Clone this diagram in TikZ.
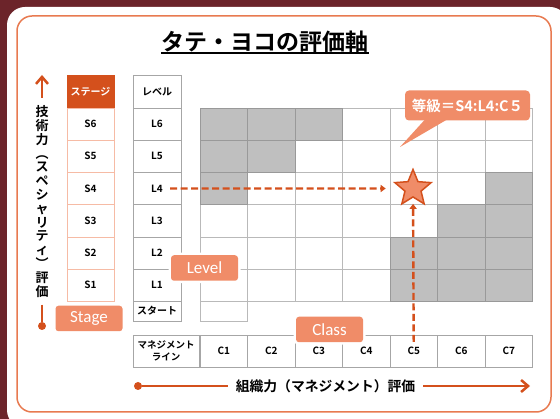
\documentclass[tikz,border=0pt]{standalone}
\usepackage{fontspec}
\usepackage{xcolor}
\usetikzlibrary{arrows.meta,positioning,calc,shapes.geometric}
\newfontfamily\jpb{Noto Sans CJK JP Bold}
\newfontfamily\lab{Carlito}
\definecolor{maroon}{RGB}{108,36,42}
\definecolor{frame}{RGB}{232,122,80}
\definecolor{deep}{RGB}{212,80,28}
\definecolor{salmon}{RGB}{240,140,104}
\definecolor{pale}{RGB}{246,187,165}

\begin{document}
\begin{tikzpicture}[x=1pt,y=-1pt,>={Triangle[length=5pt,width=7pt]}]
  \tikzstyle{cell}=[draw=gray!55,inner sep=0,minimum width=47.5pt,minimum height=32.2pt,font=\jpb\fontsize{10}{12}\selectfont]
  \tikzstyle{stagecell}=[cell,draw=pale,minimum width=47pt]
  \tikzstyle{levelcell}=[cell,draw=gray!70,minimum width=48pt]
  \tikzstyle{shade}=[cell,fill=gray!50,draw=gray!80]
  \tikzstyle{tag}=[fill=salmon,text=white,rounded corners=3pt,font=\lab\fontsize{17}{17}\selectfont,minimum width=67pt,minimum height=25.5pt,inner sep=0,preaction={draw=white,line width=5pt}]
  \tikzstyle{axisline}=[deep,line width=2.5pt]
  \tikzstyle{guide}=[deep,line width=2.4pt,dash pattern=on 7pt off 3.5pt]
  \tikzstyle{dot}=[circle,fill=deep,inner sep=0,minimum size=8pt]
  \useasboundingbox (0,0) rectangle (560,419);
  % panel
  \fill[maroon] (0,0) rectangle (560,419);
  \fill[white,rounded corners=18pt] (7,7) rectangle (568,428);
  \draw[frame,line width=1.5pt,rounded corners=15pt] (17,16) rectangle (551,412);
  \node[font=\jpb\fontsize{23}{26}\selectfont,inner sep=0] (title) at (265,42) {タテ・ヨコの評価軸};
  \draw[line width=1.3pt] (title.south west) -- (title.south east);
  % stage and level columns
  \node[stagecell,fill=deep,draw=deep,text=white,minimum height=33pt] (st) at (90.5,91.5) {ステージ};
  \foreach \i in {1,...,6}
    \node[stagecell] (s\i) at (90.5,{108+(6.5-\i)*32.2}) {S\i};
  \node[levelcell,minimum height=33pt] (lv) at (157,91.5) {レベル};
  \foreach \i in {1,...,6}
    \node[levelcell] (lv\i) at (157,{108+(6.5-\i)*32.2}) {L\i};
  \node[levelcell,minimum height=20pt] (lv0) at (157,311) {スタート};
  % grid
  \foreach \c in {1,...,7}
    \foreach \i in {1,...,6}
      \node[cell] (g\c\i) at ({200+(\c-0.5)*47.5},{108+(6.5-\i)*32.2}) {};
  \foreach \c/\i in {1/6,2/6,3/6,1/5,2/5,1/4,7/4,6/3,7/3,5/2,6/2,7/2,5/1,6/1,7/1}
    \node[shade] (sh\c\i) at ({200+(\c-0.5)*47.5},{108+(6.5-\i)*32.2}) {};
  \node[cell,minimum height=20pt] (g10) at (223.75,311) {};
  % management line
  \node[cell,draw=gray!70,minimum width=66pt,minimum height=32pt,align=center,font=\jpb\fontsize{9.5}{12}\selectfont] (ml) at (166,351) {マネジメント\\ライン};
  \foreach \c in {1,...,7}
    \node[cell,draw=gray!70,minimum height=32pt] (cc\c) at ({200+(\c-0.5)*47.5},351) {C\c};
  % tags
  \node[tag] (stage) at (89,318.5) {Stage};
  \node[tag] (level) at (204.5,268) {Level};
  \node[tag] (class) at (329.5,329.5) {Class};
  % callout
  \node[fill=salmon,text=white,rounded corners=4pt,font=\jpb\fontsize{14.5}{16}\selectfont,minimum width=125pt,minimum height=30pt,inner sep=0] (grade) at (467.5,105.5) {等級＝S4:L4:C５};
  \coordinate (gtip) at (400,147);
  \fill[salmon] ($(grade.south west)+(20,-1)$) -- ($(grade.south west)+(42,-1)$) -- (gtip) -- cycle;
  % star and guides
  \node[star,star points=5,star point ratio=2.25,minimum size=38pt,inner sep=0,fill=salmon,draw=deep,line width=1.5pt] (mark) at (413,188.5) {};
  \draw[guide,->,shorten <=-11pt,shorten >=15pt] (lv4) -- (mark);
  \draw[guide,->,shorten <=-7pt,shorten >=6pt] (cc5) -- (mark);
  % axes
  \coordinate (vtip) at (42,75);
  \node[font=\jpb\fontsize{13}{13.8}\selectfont,align=center,inner sep=0] (vtext) at (42,201.5) {技\\術\\力\\︵\\ス\\ペ\\シ\\ャ\\リ\\テ\\ィ\\︶\\評\\価};
  \node[dot] (vdot) at (42,326) {};
  \draw[axisline,{Straight Barb[length=7pt,width=12pt]}-,shorten >=7pt] (vtip) -- (vtext.north);
  \draw[axisline,shorten <=7pt] (vtext.south) -- (vdot);
  \node[dot] (hdot) at (138,386) {};
  \node[font=\jpb\fontsize{13.8}{16}\selectfont,inner sep=0] (htext) at (325.5,386) {組織力（マネジメント）評価};
  \coordinate (htip) at (530,386);
  \draw[axisline,shorten >=8pt] (hdot) -- (htext);
  \draw[axisline,-{Straight Barb[length=7pt,width=12pt]},shorten <=8pt] (htext) -- (htip);
\end{tikzpicture}
\end{document}
